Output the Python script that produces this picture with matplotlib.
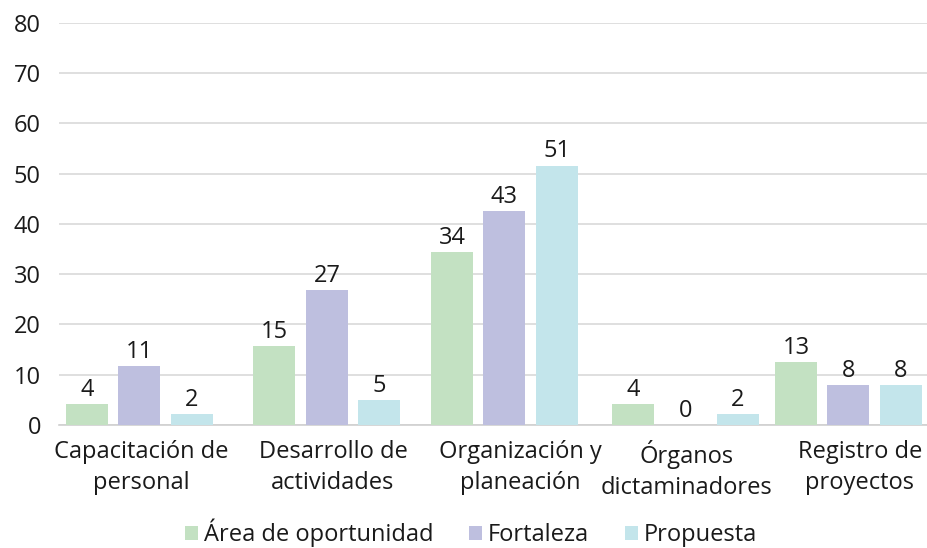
import matplotlib
matplotlib.use("Agg")
import matplotlib.pyplot as plt
from matplotlib.patches import Patch

plt.rcParams["font.family"] = ["Open Sans", "DejaVu Sans"]

categories = [
    "Capacitación de\npersonal",
    "Desarrollo de\nactividades",
    "Organización y\nplaneación",
    "Órganos\ndictaminadores",
    "Registro de\nproyectos",
]
series_names = ["Área de oportunidad", "Fortaleza", "Propuesta"]
oportunidad = [4.2, 15.7, 34.4, 4.2, 12.5]
fortaleza = [11.7, 26.8, 42.6, 0.0, 7.9]
propuesta = [2.2, 5.0, 51.6, 2.2, 7.9]
oportunidad_labels = ["4", "15", "34", "4", "13"]
fortaleza_labels = ["11", "27", "43", "0", "8"]
propuesta_labels = ["2", "5", "51", "2", "8"]

# layout (pixel-like units along x)
group_centers = [139.5, 327, 504.5, 685.5, 848.5]
label_centers = [141, 333, 520, 687, 860]
offsets = [-52.5, 0, 52.5]
bar_width = 42
colors = ["#C3E1C2", "#BEBFDF", "#C3E5EB"]
text_color = "#1A1A1A"
fs = 17

fig = plt.figure(figsize=(9.28, 5.48), dpi=100)
ax = fig.add_axes([59 / 928, 1 - 425 / 548, 1 - 59 / 928, (425 - 22.7) / 548])

series = [oportunidad, fortaleza, propuesta]
labels = [oportunidad_labels, fortaleza_labels, propuesta_labels]
for vals, labs, off, col in zip(series, labels, offsets, colors):
    xs = [c + off for c in group_centers]
    ax.bar(xs, vals, width=bar_width, color=col, zorder=3)
    for x, v, lab in zip(xs, vals, labs):
        ax.annotate(lab, (x, v), xytext=(0, 1.5), textcoords="offset points",
                    ha="center", va="bottom", fontsize=fs, color=text_color)

ax.set_xlim(59, 928)
ax.set_ylim(0, 80)
ax.set_yticks(range(0, 81, 10))
ax.set_xticks(label_centers)
ax.set_xticklabels(categories, fontsize=fs, color=text_color, linespacing=1.37)
ax.tick_params(axis="y", length=0, pad=13, labelsize=fs, labelcolor=text_color)
ax.tick_params(axis="x", length=0, pad=11)
ax.grid(axis="y", color="#D9D9D9", linewidth=1.2, zorder=0)
ax.grid(axis="x", visible=False)
for s in ["top", "right", "left"]:
    ax.spines[s].set_visible(False)
ax.spines["bottom"].set_color("#D0D0D0")
ax.spines["bottom"].set_linewidth(1.2)

handles = [Patch(facecolor=c, edgecolor="none") for c in colors]
fig.legend(handles, series_names, loc="center", bbox_to_anchor=(471 / 928, 1 - 533 / 548),
           ncol=3, frameon=False, fontsize=fs, handlelength=0.55, handleheight=0.55,
           handletextpad=0.25, columnspacing=1.5, labelcolor=text_color,
           borderpad=0, borderaxespad=0)

fig.savefig("out.png", dpi=100)
